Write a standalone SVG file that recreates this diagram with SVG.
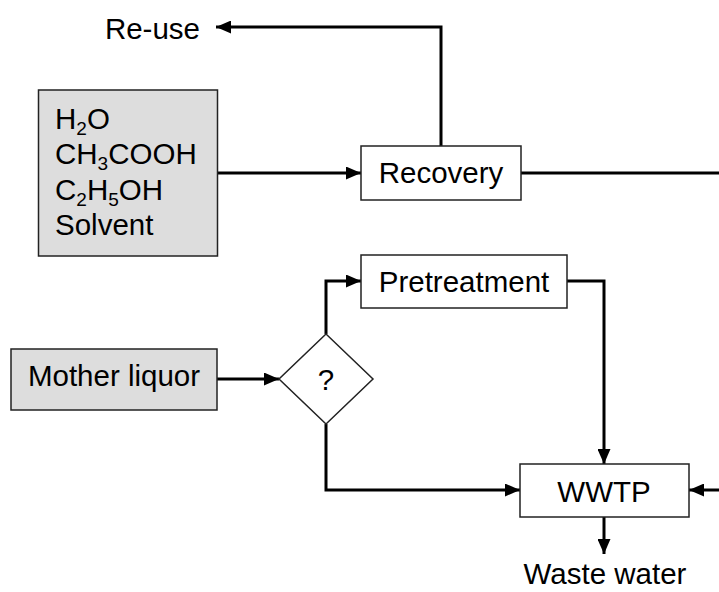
<svg xmlns="http://www.w3.org/2000/svg" width="719" height="592" viewBox="0 0 719 592">
<defs>
<marker id="ah" markerUnits="userSpaceOnUse" markerWidth="15" markerHeight="13" refX="15" refY="6.5" orient="auto">
<path d="M0,0 L15,6.5 L0,13 z" fill="#000"/>
</marker>
<style>
text{font-family:"Liberation Sans",Arial,sans-serif;font-size:29.5px;fill:#000}
.box{fill:#fff;stroke:#222;stroke-width:1.5}
.grey{fill:#dddddd;stroke:#222;stroke-width:1.5}
.c{fill:none;stroke:#000;stroke-width:3}
.m{text-anchor:middle}
.sub{font-size:19px}
</style>
</defs>
<rect width="719" height="592" fill="#fff"/>
<g id="connectors">
<path class="c" d="M441,146 V27 H216" marker-end="url(#ah)"/>
<path class="c" d="M217,173 H361" marker-end="url(#ah)"/>
<path class="c" d="M521,173 H719"/>
<path class="c" d="M217,379 H279" marker-end="url(#ah)"/>
<path class="c" d="M326,334 V281 H361" marker-end="url(#ah)"/>
<path class="c" d="M567,281 H604 V464" marker-end="url(#ah)"/>
<path class="c" d="M326,424 V490 H520" marker-end="url(#ah)"/>
<path class="c" d="M719,490 H689" marker-end="url(#ah)"/>
<path class="c" d="M604,517 V554" marker-end="url(#ah)"/>
</g>
<g id="reuse"><text x="200" y="39" text-anchor="end">Re-use</text></g>
<g id="chemicals">
<rect class="grey" x="38.5" y="90" width="179" height="166"/>
<text x="55" y="128.5">H<tspan class="sub" dy="6">2</tspan><tspan dy="-6">O</tspan></text>
<text x="55" y="164">CH<tspan class="sub" dy="6">3</tspan><tspan dy="-6">COOH</tspan></text>
<text x="55" y="199.5">C<tspan class="sub" dy="6">2</tspan><tspan dy="-6">H</tspan><tspan class="sub" dy="6">5</tspan><tspan dy="-6">OH</tspan></text>
<text x="55" y="235">Solvent</text>
</g>
<g id="recovery">
<rect class="box" x="361" y="146" width="160" height="54"/>
<text class="m" x="441" y="183">Recovery</text>
</g>
<g id="pretreatment">
<rect class="box" x="361" y="255" width="206" height="53"/>
<text class="m" x="464" y="292">Pretreatment</text>
</g>
<g id="mother-liquor">
<rect class="grey" x="11" y="349" width="206" height="61"/>
<text class="m" x="114" y="386">Mother liquor</text>
</g>
<g id="decision">
<polygon class="box" points="326,334 373,379 326,424 279,379"/>
<text class="m" x="326" y="390">?</text>
</g>
<g id="wwtp">
<rect class="box" x="520" y="464" width="169" height="53"/>
<text class="m" x="604" y="502">WWTP</text>
</g>
<g id="waste-water"><text class="m" x="605" y="584">Waste water</text></g>
</svg>
